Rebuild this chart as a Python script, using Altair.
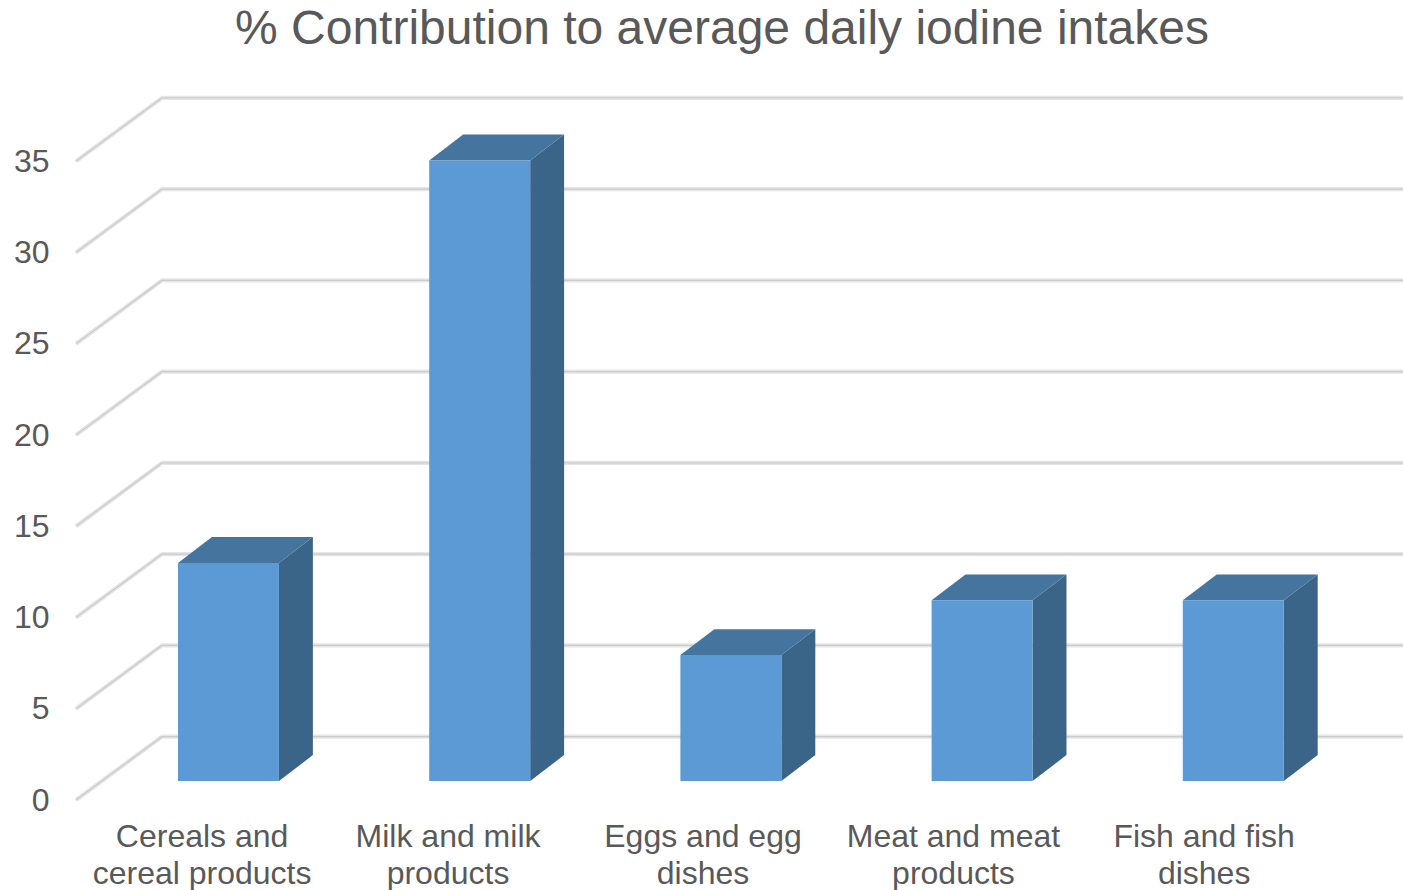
import altair as alt
import pandas as pd

# Chart content
TITLE = "% Contribution to average daily iodine intakes"
categories = [
    "Cereals and\ncereal products",
    "Milk and milk\nproducts",
    "Eggs and egg\ndishes",
    "Meat and meat\nproducts",
    "Fish and fish\ndishes",
]
contribution = [11.95, 34, 6.9, 9.9, 9.9]
y_ticks = [0, 5, 10, 15, 20, 25, 30, 35]
label_centres = [0.096, 1.075, 2.09, 3.087, 4.085]

# Pseudo-3D projection, in axis units: x in category slots, y in percentage points
BAR_WIDTH = 0.402
BAR_LIFT = 1.04       # bars stand this far behind the front edge of the floor
BAR_DEPTH_X = 0.135
BAR_DEPTH_Y = 1.42
WALL_FRONT_X = -0.406
WALL_BACK_X = -0.0637
WALL_DEPTH_Y = 3.47
X_DOMAIN = [-0.4896, 4.8766]
Y_DOMAIN = [-4.9315, 40.548]
LABEL_Y = -2.02

GREY = "#595959"
FONT = "Liberation Sans"

x_scale = alt.Scale(domain=X_DOMAIN, nice=False, zero=False)
y_scale = alt.Scale(domain=Y_DOMAIN, nice=False, zero=False)
y_axis = alt.Axis(
    values=y_ticks,
    domain=False,
    ticks=False,
    grid=False,
    title=None,
    labelFont=FONT,
    labelFontSize=32,
    labelColor=GREY,
    labelPadding=6,
    labelOffset=0,
)
x_enc = alt.X("x:Q", scale=x_scale, axis=None)
y_enc = alt.Y("y:Q", scale=y_scale, axis=y_axis)

# Wall and floor gridlines
grid_rows = []
for tick in y_ticks:
    grid_rows += [
        {"tick": tick, "step": 0, "x": WALL_FRONT_X, "y": tick},
        {"tick": tick, "step": 1, "x": WALL_BACK_X, "y": tick + WALL_DEPTH_Y},
        {"tick": tick, "step": 2, "x": X_DOMAIN[1], "y": tick + WALL_DEPTH_Y},
    ]
grid_df = pd.DataFrame(grid_rows)


def grid_layer(colour, width):
    return (
        alt.Chart(grid_df)
        .mark_line(color=colour, strokeWidth=width, strokeJoin="round", clip=True)
        .encode(x=x_enc, y=y_enc, detail="tick:N", order="step:Q")
    )


grid_outer = grid_layer("#e6e6e6", 4.2)
grid_inner = grid_layer("#cccccc", 1.4)

# Bar faces
front_rows, top_rows, side_rows = [], [], []
for i, (name, value) in enumerate(zip(categories, contribution)):
    left = i
    right = i + BAR_WIDTH
    base = BAR_LIFT
    top = value + BAR_LIFT
    front_rows.append({"x": left, "x2": right, "y": base, "y2": top})
    top_rows += [
        {"bar": i, "y": top, "x": left, "x2": right},
        {"bar": i, "y": top + BAR_DEPTH_Y, "x": left + BAR_DEPTH_X, "x2": right + BAR_DEPTH_X},
    ]
    side_rows += [
        {"bar": i, "x": right, "y": base, "y2": top},
        {"bar": i, "x": right + BAR_DEPTH_X, "y": base + BAR_DEPTH_Y, "y2": top + BAR_DEPTH_Y},
    ]

side_faces = (
    alt.Chart(pd.DataFrame(side_rows))
    .mark_area(orient="vertical", color="#3a6488")
    .encode(x=x_enc, y=y_enc, y2="y2:Q", detail="bar:N")
)
top_faces = (
    alt.Chart(pd.DataFrame(top_rows))
    .mark_area(orient="horizontal", color="#45759f")
    .encode(y=y_enc, x=x_enc, x2="x2:Q", detail="bar:N")
)
front_faces = (
    alt.Chart(pd.DataFrame(front_rows))
    .mark_rect(color="#5c9ad6")
    .encode(x=x_enc, x2="x2:Q", y=y_enc, y2="y2:Q")
)

# Category labels below the floor
label_df = pd.DataFrame({"label": categories, "x": label_centres, "y": [LABEL_Y] * len(categories)})
category_labels = (
    alt.Chart(label_df)
    .mark_text(
        font=FONT,
        fontSize=32,
        color=GREY,
        align="center",
        baseline="middle",
        lineBreak="\n",
        lineHeight=37,
    )
    .encode(x=x_enc, y=y_enc, text="label:N")
)

chart = (
    alt.layer(grid_outer, grid_inner, side_faces, top_faces, front_faces, category_labels)
    .properties(
        width=1348,
        height=830,
        padding={"left": 55, "top": 60, "right": 0, "bottom": 0},
        autosize="none",
        title=alt.TitleParams(
            TITLE,
            font=FONT,
            fontSize=48,
            fontWeight="normal",
            color=GREY,
            anchor="middle",
            dx=-7,
            offset=6,
        ),
    )
    .configure_view(stroke=None)
)

chart.save("out.html", embed_options={"renderer": "svg", "actions": False})
